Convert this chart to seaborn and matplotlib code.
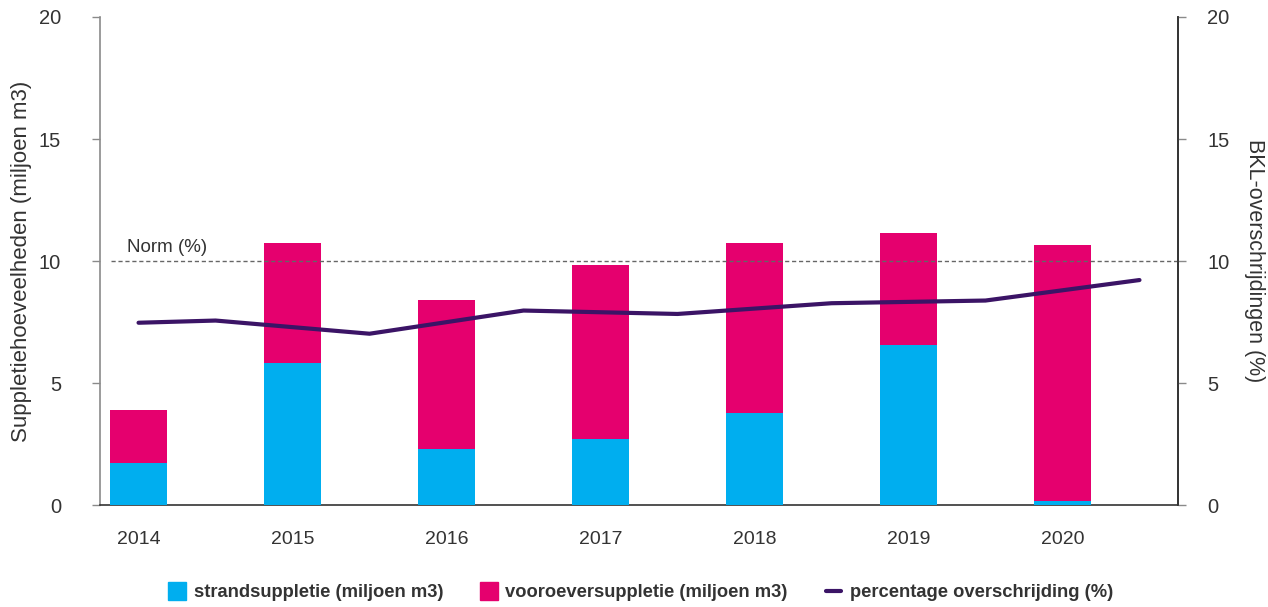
import numpy as np
import pandas as pd
import matplotlib
matplotlib.use("Agg")
import matplotlib.pyplot as plt
import seaborn as sns
from matplotlib.lines import Line2D

# data
jaren = ["2014", "2015", "2016", "2017", "2018", "2019", "2020"]
strand = [1.74, 5.83, 2.30, 2.71, 3.78, 6.57, 0.16]
vooroever = [2.16, 4.89, 6.12, 7.11, 6.94, 4.56, 10.48]
# overschrijding percentage, at category positions (start 2014, then between years)
lijn_pos = [0, 0.5, 1.5, 2.5, 3.5, 4.5, 5.5, 6.5]
overschrijding = [7.47, 7.56, 7.02, 7.97, 7.83, 8.27, 8.38, 9.22]
norm = 10

c_strand = "#00AEEF"
c_voor = "#E5006E"
c_lijn = "#3B1466"
c_tekst = "#333333"

sns.set_style("white")
plt.rcParams['font.family'] = ['Liberation Sans', 'DejaVu Sans']

df = pd.DataFrame({"jaar": jaren, "strand": strand, "vooroever": vooroever})
df["totaal"] = df["strand"] + df["vooroever"]

fig = plt.figure(figsize=(12.68, 6.07), dpi=100)
ax = fig.add_axes([0.0789, 0.168, 0.929 - 0.0789, 0.972 - 0.168])

sns.barplot(data=df, x="jaar", y="totaal", color=c_voor, width=0.37,
            saturation=1, linewidth=0, ax=ax, zorder=2)
sns.barplot(data=df, x="jaar", y="strand", color=c_strand, width=0.37,
            saturation=1, linewidth=0, ax=ax, zorder=3)

ax.set_xlim(-0.25, 6.75)
ax.set_ylim(0, 20)
ax.set_yticks([0, 5, 10, 15, 20])
ax.set_xlabel("")
ax.set_ylabel("Suppletiehoeveelheden (miljoen m3)", fontsize=16, color=c_tekst, labelpad=5)
ax.tick_params(axis="x", length=0, pad=19, labelsize=14, labelcolor=c_tekst)
ax.tick_params(axis="y", length=6, width=1, color="#8a8a8a", pad=22,
               labelsize=14.5, labelcolor=c_tekst, left=True)

# norm lijn
ax.axhline(norm, xmin=0.01, color="#666666", lw=1, ls=(0, (3, 2)), zorder=4)
ax.text(-0.075, 10.2, "Norm (%)", fontsize=13.5, color=c_tekst, ha="left", va="bottom")

ax2 = ax.twinx()
sns.lineplot(x=lijn_pos, y=overschrijding, color=c_lijn, lw=3, ax=ax2, zorder=5)
ax2.set_ylim(0, 20)
ax2.set_yticks([0, 5, 10, 15, 20])
ax2.set_ylabel("BKL-overschrijdingen (%)", fontsize=15.5, color=c_tekst,
               rotation=-90, labelpad=26)
ax2.tick_params(axis="y", length=6, width=1, color="#8a8a8a", pad=15,
                labelsize=14.5, labelcolor=c_tekst, right=True)
ax.set_xlim(-0.25, 6.75)

for a in (ax, ax2):
    a.spines["top"].set_visible(False)
ax.spines["left"].set_color("#8a8a8a")
ax.spines["bottom"].set_color("#333333")
ax2.spines["right"].set_color("#333333")
ax2.spines["left"].set_visible(False)
ax2.spines["bottom"].set_visible(False)
for a in (ax, ax2):
    for s in a.spines.values():
        s.set_linewidth(1.2)

handles = [
    Line2D([], [], marker="s", ls="none", markersize=13, color=c_strand),
    Line2D([], [], marker="s", ls="none", markersize=13, color=c_voor),
    Line2D([], [], color=c_lijn, lw=3),
]
labels = ["strandsuppletie (miljoen m3)", "vooroeversuppletie (miljoen m3)",
          "percentage overschrijding (%)"]
leg = fig.legend(handles, labels, loc="lower center", bbox_to_anchor=(0.506, -0.018),
                 ncol=3, frameon=False, handlelength=0.8, handletextpad=0.5,
                 columnspacing=2.1, prop={"size": 13.2, "weight": "bold"})
for t in leg.get_texts():
    t.set_color(c_tekst)

fig.savefig("out.png", dpi=100)
